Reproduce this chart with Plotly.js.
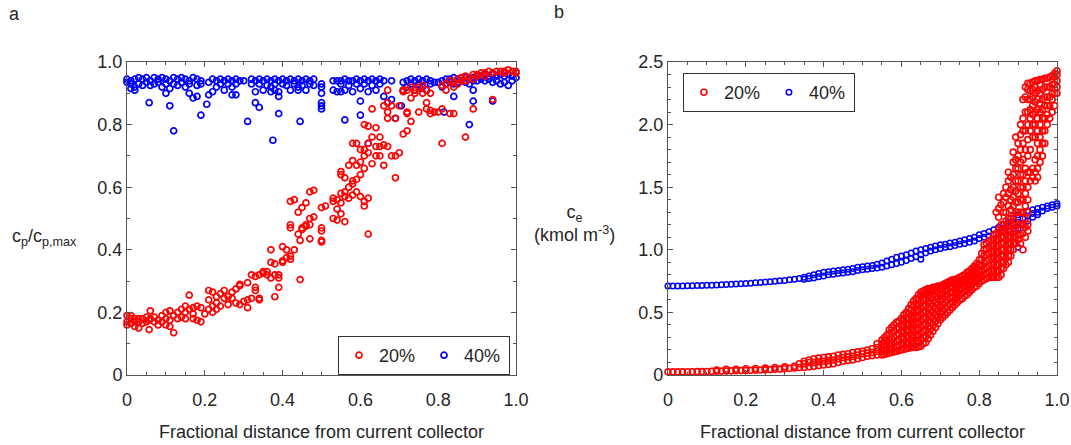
<!DOCTYPE html>
<html>
<head>
<meta charset="utf-8">
<script src="https://cdn.plot.ly/plotly-3.0.1.min.js"></script>
<style>html,body{margin:0;padding:0;background:#fff;}#chart{width:1071px;height:445px;}</style>
</head>
<body>
<div id="chart"></div>
<script>
// ---------- Panel a : c_p / c_p,max ----------
const a20X = [0.00,0.01,0.02,0.03,0.04,0.05,0.057,0.06,0.07,0.08,0.09,0.10,0.11,0.12,0.13,0.14,0.15,0.16,0.17,0.18,0.19,0.20,
  0.21,0.22,0.23,0.24,0.25,0.26,0.27,0.28,0.29,0.30,0.31,0.32,0.33,0.34,0.35,0.36,0.37,0.38,0.39,0.40,0.41,0.42,0.43,0.44,0.445,
  0.45,0.46,0.47,0.48,0.50,0.51,0.53,0.54,0.55,0.56,0.57,0.58,0.59,0.60,0.61,0.62,0.63,0.64,0.65,0.66,0.67,0.68,0.69,0.70,
  0.71,0.72,0.73,0.74,0.75,0.76,0.77,0.78,0.79,0.80,0.81,0.82,0.83,0.84,0.85,0.86,0.87,0.88,0.89,0.90,0.91,0.92,0.93,0.94,
  0.95,0.96,0.97,0.98,0.99,1.00];
const a20Y = [[0.17,0.19,0.16],[0.18,0.165,0.19],[0.17,0.155,0.18],[0.15,0.17,0.18],[0.165,0.18],[0.17,0.185],[0.145,0.175],[0.205,0.18],[0.17,0.185],[0.175,0.16],[0.19,0.17],[0.2,0.16,0.18],[0.155,0.205,0.175],[0.135,0.19],[0.2,0.18],[0.185,0.21],[0.2,0.22,0.18],[0.255,0.21],[0.215,0.195,0.18],[0.22,0.175],[0.215,0.17],[0.195],
  [0.27,0.24,0.21],[0.265,0.22,0.2],[0.23,0.25,0.21],[0.26,0.22],[0.27,0.245],[0.25,0.225],[0.265,0.245],[0.275,0.23],[0.285,0.225,0.29],[0.235],[0.295,0.215,0.24],[0.32,0.245],[0.315,0.28,0.27],[0.32,0.24,0.245],[0.325,0.33],[0.32,0.33],[0.36,0.4,0.31],[0.355,0.25,0.32],[0.31,0.28,0.32],[0.41,0.365,0.36],[0.4,0.375],[0.38,0.37,0.555,0.48,0.47],[0.4,0.56],[0.45,0.52],[0.305,0.43],
  [0.535,0.465,0.47],[0.475,0.48,0.55],[0.5,0.585,0.48,0.435],[0.59,0.505],[0.535,0.47,0.46,0.43,0.425],[0.54],[0.565,0.5,0.555],[0.56,0.53,0.495],[0.58,0.55,0.65,0.515,0.64],[0.585,0.57,0.63,0.49],[0.6,0.67,0.565],[0.62,0.61,0.685,0.575,0.74],[0.585,0.625,0.67,0.74],[0.64,0.68,0.57,0.72],[0.66,0.7,0.54,0.72,0.8,0.555],[0.71,0.45,0.565,0.795,0.74],[0.675,0.76,0.85],[0.79,0.73,0.7],[0.76,0.73,0.7],[0.86,0.67,0.735],[0.87,0.91,0.84,0.82,0.73],[0.86,0.7],[0.63,0.7,0.82],[0.86,0.71],
  [0.905,0.77,0.91],[0.91,0.78,0.84,0.835],[0.885,0.81,0.92],[0.9,0.91],[0.92,0.84],[0.925,0.9],[0.91,0.87,0.85],[0.9,0.835,0.845],[0.84],[0.84],[0.925,0.85,0.74],[0.93,0.91],[0.94,0.835],[0.935,0.92,0.835],[0.945,0.93],[0.95,0.94],[0.955,0.94,0.76],[0.95],[0.96,0.85,0.945],[0.96,0.955],[0.965],[0.965,0.955],[0.97],[0.965,0.88],
  [0.97],[0.97],[0.97,0.965],[0.975],[0.97],[0.97,0.965]];

const a40X = [0.00,0.01,0.02,0.03,0.04,0.05,0.057,0.06,0.07,0.08,0.09,0.10,0.11,0.12,0.13,0.14,0.15,0.16,0.17,0.18,0.19,0.205,
  0.21,0.22,0.23,0.24,0.25,0.26,0.27,0.28,0.29,0.30,0.31,0.32,0.33,0.34,0.35,0.36,0.37,0.375,0.38,0.39,0.40,0.41,0.42,0.43,0.44,0.445,
  0.45,0.46,0.47,0.48,0.50,0.53,0.54,0.55,0.56,0.57,0.58,0.59,0.60,0.61,0.62,0.63,0.64,0.65,0.66,0.67,0.68,0.69,0.705,
  0.71,0.72,0.73,0.74,0.75,0.755,0.76,0.77,0.78,0.79,0.80,0.81,0.815,0.82,0.83,0.84,0.85,0.86,0.87,0.88,0.89,0.90,
  0.91,0.92,0.93,0.94,0.95,0.96,0.97,0.98,0.99,1.00];
const a40Y = [[0.945,0.935],[0.94,0.915,0.93],[0.945,0.92,0.91],[0.95,0.93],[0.945,0.925],[0.95,0.935],[0.87],[0.94,0.925],[0.95,0.93],[0.945,0.935],[0.95,0.92],[0.945,0.93,0.90],[0.94,0.915,0.86],[0.95,0.93,0.78],[0.945,0.925],[0.95,0.935],[0.945,0.92],[0.94,0.93,0.90],[0.95,0.885],[0.945,0.925,0.89],[0.94,0.93,0.83],[0.865],
  [0.935,0.895],[0.945,0.905],[0.94,0.92],[0.945,0.93],[0.94,0.91],[0.945,0.93],[0.94,0.92,0.895],[0.945,0.93,0.895],[0.94],[0.94],[0.81],[0.93,0.945],[0.94,0.905,0.87],[0.945,0.93,0.855],[0.94,0.91],[0.945,0.925],[0.94,0.92,0.905],[0.75],[0.945,0.93,0.91],[0.94,0.905,0.835,0.89],[0.945,0.93],[0.94,0.925],[0.945,0.91],[0.94,0.93],[0.945,0.92,0.91],[0.81],
  [0.94,0.925],[0.945,0.91],[0.94,0.93],[0.945,0.925],[0.93,0.92,0.90,0.87,0.86,0.85],[0.94,0.91],[0.94,0.905],[0.94,0.93,0.905],[0.945,0.91,0.815],[0.94,0.925],[0.94,0.905],[0.945,0.93],[0.94,0.915,0.875,0.83],[0.945,0.93],[0.94,0.905,0.74],[0.945,0.925],[0.94,0.91],[0.945,0.93],[0.94,0.89],[0.87],[0.94,0.88],[0.82],[0.86],
  [0.935,0.91],[0.94,0.92],[0.945,0.93],[0.94,0.91],[0.945,0.93],[0.915],[0.94,0.92],[0.945,0.91],[0.94,0.93],[0.935],[0.935],[0.94,0.92],[0.84],[0.945,0.93],[0.945,0.935],[0.95,0.93,0.89],[0.945,0.935],[0.95,0.94],[0.95,0.935],[0.945,0.93,0.80],[0.95,0.94,0.91,0.875],[0.955,0.94],
  [0.955,0.945],[0.96,0.94],[0.955,0.945],[0.96,0.935,0.875],[0.955,0.94],[0.96,0.93],[0.955,0.935],[0.96,0.925],[0.955,0.94],[0.95]];

// ---------- Panel b : c_e ----------
const b20X = [0,0.0125,0.025,0.0375,0.05,0.0625,0.075,0.0875,0.1,0.1125,0.125,0.1375,0.15,0.1625,0.175,0.1875,0.2,0.2125,0.225,0.2375,0.25,0.2625,0.275,0.2875,0.3,0.3125,0.325,
  0.3375,0.35,0.3625,0.375,0.3875,0.4,0.4125,0.425,0.4375,0.45,0.4625,0.475,0.4875,0.5,0.5125,0.525,0.5375,0.55,0.5625,0.575,0.5875,
  0.6,0.6125,0.625,0.6375,0.65,0.6625,0.675,0.6875,0.7,0.7125,0.725,0.7375,0.75,0.7625,0.775,0.7875,0.8,0.8125,0.825,0.8375,0.85,
  0.8625,0.875,0.8875,0.9,0.9125,0.925,0.9375,0.95,0.9625,0.975,0.9875,1.0];
const b20Y = [[0.025],[0.025],[0.025],[0.025],[0.026],[0.026],[0.027],[0.027],[0.028],[0.029],[0.03,0.04],[0.031],[0.032,0.045],[0.033],[0.034,0.046],[0.035],[0.036,0.05],[0.037],[0.038,0.052],[0.04],[0.041,0.055],[0.043],[0.045,0.06],[0.047],[0.05,0.065],[0.053],[0.056,0.07],
  [0.06,0.09],[0.06,0.09,0.11],[0.065,0.1,0.12],[0.07,0.1,0.13],[0.075,0.105,0.135],[0.08,0.11,0.14],[0.085,0.115,0.145],[0.09,0.12,0.15],[0.1,0.13,0.16],[0.11,0.14,0.165],[0.115,0.145,0.17],[0.12,0.15,0.18],[0.13,0.16,0.185],[0.14,0.17,0.19],[0.15,0.175,0.2],[0.155,0.18,0.21],[0.16,0.19,0.22,0.25],[0.16,0.19,0.22,0.25,0.28],[0.17,0.2,0.24,0.28,0.32],[0.18,0.21,0.25,0.29,0.34,0.38],[0.19,0.23,0.27,0.32,0.37,0.42],
  [0.2,0.25,0.3,0.35,0.4,0.45],[0.21,0.26,0.31,0.36,0.41,0.46,0.5],[0.22,0.27,0.32,0.37,0.42,0.47,0.52,0.56],[0.22,0.27,0.32,0.37,0.42,0.47,0.52,0.57,0.61],[0.23,0.28,0.33,0.38,0.43,0.48,0.53,0.58,0.63,0.66],[0.26,0.31,0.36,0.41,0.46,0.51,0.56,0.61,0.65,0.68],[0.32,0.37,0.42,0.47,0.52,0.57,0.62,0.66,0.69],[0.38,0.43,0.48,0.53,0.58,0.63,0.67,0.7],
  [0.44,0.49,0.54,0.59,0.64,0.68,0.71],[0.48,0.53,0.58,0.63,0.67,0.71,0.73],[0.52,0.57,0.62,0.66,0.7,0.73,0.75],[0.56,0.6,0.64,0.68,0.72,0.75,0.76],[0.6,0.64,0.68,0.72,0.75,0.78],[0.63,0.67,0.71,0.74,0.77,0.8],[0.66,0.7,0.74,0.77,0.8,0.83],[0.7,0.74,0.77,0.8,0.84,0.87],
  [0.73,0.77,0.8,0.84,0.88,0.92],[0.76,0.8,0.85,0.9,0.95,1.0,1.04],[0.78,0.82,0.87,0.92,0.97,1.02,1.07],[0.78,0.83,0.88,0.93,0.98,1.03,1.08,1.12],[0.78,0.83,0.88,0.93,0.98,1.03,1.08,1.13,1.16,1.26,1.33,1.42],
  [0.85,0.9,0.95,1.0,1.05,1.1,1.15,1.2,1.3,1.38,1.45],[0.9,0.95,1.0,1.05,1.1,1.15,1.2,1.25,1.35,1.45,1.55,1.62],[1.0,1.05,1.1,1.15,1.2,1.27,1.35,1.42,1.5,1.6,1.7,1.78],[1.08,1.12,1.2,1.3,1.38,1.45,1.55,1.65,1.75,1.85],
  [1.0,1.13,1.2,1.3,1.4,1.5,1.6,1.72,1.85,1.95,2.05,2.2],[1.15,1.2,1.3,1.4,1.5,1.62,1.75,1.88,2.0,2.1,2.2,2.28,2.33],[1.58,1.65,1.9,2.0,2.08,2.15,2.22,2.28,2.34],[1.58,1.65,1.75,1.85,1.95,2.05,2.12,2.2,2.27,2.35],
  [1.75,1.85,1.95,2.05,2.12,2.2,2.28,2.36],[2.0,2.08,2.15,2.22,2.3,2.37],[2.1,2.2,2.25,2.32,2.39],[2.25,2.3,2.35,2.4,2.43]];
// staggered in-between columns of the dense red band
const b20Xh = [0.55625,0.56875,0.58125,0.59375,0.60625,0.61875,0.63125,0.64375,0.65625,0.66875,0.68125,0.69375,0.70625,0.71875,0.73125,0.74375,0.75625,0.76875,0.78125,0.79375,
  0.80625,0.81875,0.83125,0.84375,0.85625,0.86875,0.88125,0.89375,0.90625,0.91875,0.93125,0.94375,0.95625,0.96875,0.98125,0.99375];
const b20Yh = [[0.165,0.2,0.235,0.27,0.3],[0.175,0.21,0.25,0.29,0.33,0.36],[0.185,0.22,0.26,0.3,0.35,0.4],[0.195,0.235,0.28,0.33,0.38,0.43],[0.205,0.245,0.29,0.34,0.39,0.44,0.48],[0.215,0.25,0.3,0.35,0.4,0.45,0.49,0.53],
  [0.22,0.25,0.3,0.35,0.4,0.45,0.5,0.55,0.59],[0.225,0.26,0.31,0.36,0.41,0.46,0.51,0.56,0.6,0.64],[0.25,0.3,0.35,0.4,0.45,0.5,0.55,0.6,0.64,0.67],[0.29,0.34,0.39,0.44,0.49,0.54,0.59,0.64,0.67,0.69],[0.35,0.4,0.45,0.5,0.55,0.6,0.64,0.68,0.7],[0.41,0.46,0.51,0.56,0.61,0.65,0.69,0.71],
  [0.46,0.51,0.56,0.61,0.65,0.69,0.72],[0.5,0.55,0.6,0.64,0.68,0.72,0.74],[0.54,0.58,0.62,0.66,0.7,0.74,0.76],[0.58,0.62,0.66,0.7,0.73,0.77],[0.61,0.65,0.69,0.73,0.76,0.79],[0.64,0.68,0.72,0.76,0.79,0.82],[0.68,0.72,0.75,0.79,0.82,0.85],[0.71,0.75,0.78,0.82,0.86,0.89],
  [0.75,0.79,0.83,0.87,0.92,0.97],[0.77,0.81,0.86,0.91,0.96,1.01,1.05],[0.78,0.83,0.88,0.93,0.98,1.03,1.08],[0.78,0.83,0.88,0.93,0.98,1.03,1.08,1.13,1.3],[0.8,0.85,0.9,0.95,1.0,1.05,1.1,1.15,1.2,1.36],
  [0.88,0.93,0.98,1.03,1.08,1.13,1.18,1.23,1.3,1.42,1.5],[0.95,1.0,1.05,1.1,1.15,1.2,1.25,1.32,1.4,1.48,1.58],[1.05,1.1,1.15,1.22,1.3,1.38,1.47,1.55,1.65,1.72,1.9],[1.05,1.12,1.2,1.3,1.4,1.5,1.6,1.7,1.8,1.92,2.0],
  [1.1,1.18,1.25,1.35,1.45,1.55,1.65,1.8,1.95,2.1,2.22,2.3],[1.55,1.62,1.8,1.95,2.05,2.12,2.2,2.27,2.33],[1.55,1.62,1.72,1.9,2.0,2.1,2.18,2.25,2.3,2.35],[1.7,1.8,1.9,2.0,2.1,2.17,2.25,2.32,2.36],[1.85,1.95,2.05,2.15,2.22,2.3,2.37],[2.05,2.15,2.22,2.3,2.38],[2.15,2.25,2.32,2.38,2.41]];

const b40X = [0,0.0125,0.025,0.0375,0.05,0.0625,0.075,0.0875,0.1,0.1125,0.125,0.1375,0.15,0.1625,0.175,0.1875,0.2,0.2125,0.225,0.2375,0.25,0.2625,0.275,0.2875,0.3,0.3125,0.325,
  0.3375,0.35,0.3625,0.375,0.3875,0.4,0.4125,0.425,0.4375,0.45,0.4625,0.475,0.4875,0.5,0.5125,0.525,0.5375,0.55,0.5625,0.575,0.5875,
  0.6,0.6125,0.625,0.6375,0.65,0.6625,0.675,0.6875,0.7,0.7125,0.725,0.7375,0.75,0.7625,0.775,0.7875,0.8,0.8125,0.825,0.8375,0.85,
  0.8625,0.875,0.8875,0.9,0.9125,0.925,0.9375,0.95,0.9625,0.975,0.9875,1.0];
const b40Y = [[0.71],[0.71],[0.71],[0.71],[0.712],[0.713],[0.714],[0.715],[0.716],[0.717],[0.719],[0.72],[0.722],[0.724],[0.726],[0.728],[0.73],[0.733],[0.736],[0.739],[0.742],[0.745],[0.748],[0.752],[0.755],[0.76],[0.765],
  [0.77],[0.78,0.765],[0.79,0.77],[0.8,0.775],[0.81,0.785],[0.82,0.79],[0.825,0.8],[0.83,0.805],[0.835,0.81],[0.84,0.815],[0.845,0.82],[0.85,0.825],[0.86,0.835],[0.865,0.84],[0.87,0.845],[0.875,0.85],[0.885,0.855],[0.895,0.86],[0.91,0.87],[0.925,0.88],[0.94,0.89],
  [0.95,0.9],[0.96,0.915],[0.975,0.93],[0.99,0.945],[1.0,0.96,0.925],[1.01,0.975],[1.02,0.99],[1.03,1.0],[1.04,1.01],[1.045,1.02],[1.055,1.025],[1.06,1.035],[1.07,1.045],[1.08,1.05],[1.09,1.06],[1.1,1.07],[1.12,1.09],[1.13,1.1],[1.145,1.11],[1.16,1.12],[1.18,1.13],
  [1.2,1.15,1.175],[1.22,1.16,1.19],[1.25,1.17,1.21],[1.28,1.22,1.17,1.02],[1.3,1.25,1.2],[1.31,1.27,1.23],[1.32,1.29,1.26],[1.33,1.3,1.28],[1.34,1.31],[1.35,1.33],[1.36,1.34],[1.37,1.35]];

// tick labels
const xTickVals = [0,0.2,0.4,0.6,0.8,1.0];
const xTickText = ['0','0.2','0.4','0.6','0.8','1.0'];
const yaTickVals = [0,0.2,0.4,0.6,0.8,1.0];
const yaTickText = ['0','0.2','0.4','0.6','0.8','1.0'];
const ybTickVals = [0,0.5,1.0,1.5,2.0,2.5];
const ybTickText = ['0','0.5','1.0','1.5','2.0','2.5'];
const seriesNames = ['20%','40%'];

function flat(xs, ys, xs2, ys2){
  const X=[],Y=[];
  xs.forEach((x,i)=>ys[i].forEach(v=>{X.push(x);Y.push(v);}));
  if(xs2) xs2.forEach((x,i)=>ys2[i].forEach(v=>{X.push(x);Y.push(v);}));
  return {x:X,y:Y};
}
const RED='rgb(255,0,0)', BLUE='rgb(0,0,255)';
function mk(d,color,name,xa,ya,leg,sz,lw){
  return {type:'scatter',mode:'markers',x:d.x,y:d.y,name:name,xaxis:xa,yaxis:ya,legend:leg,cliponaxis:false,
    marker:{symbol:'circle-open',size:sz,color:color,line:{width:lw,color:color}}};
}
const A20=flat(a20X,a20Y), A40=flat(a40X,a40Y), B20=flat(b20X,b20Y,b20Xh,b20Yh), B40=flat(b40X,b40Y);
const traces=[
  mk(A40,BLUE,seriesNames[1],'x','y','legend',6,1.7),
  mk(A20,RED,seriesNames[0],'x','y','legend',6,1.7),
  mk(B40,BLUE,seriesNames[1],'x2','y2','legend2',5.5,1.5),
  mk(B20,RED,seriesNames[0],'x2','y2','legend2',6,1.6)
];
traces[0].legendrank=2; traces[1].legendrank=1; traces[2].legendrank=2; traces[3].legendrank=1;

const FONT='"Liberation Sans", Arial, sans-serif';
const TXT='#262626', AX='#555555';
function axisBase(extra){
  return Object.assign({
    showgrid:false, zeroline:false, showline:true, linecolor:AX, linewidth:1, mirror:'ticks',
    ticks:'inside', ticklen:5, tickcolor:AX, tickwidth:1,
    tickfont:{family:FONT,size:18,color:TXT}, tickmode:'array'
  }, extra);
}
const layout={
  width:1071,height:445,
  margin:{l:127,r:14,t:62,b:70,pad:0},
  paper_bgcolor:'#fff',plot_bgcolor:'#fff',
  font:{family:FONT,color:TXT},
  showlegend:true,
  xaxis:axisBase({domain:[0,0.4183],range:[0,1],tickvals:xTickVals,ticktext:xTickText,anchor:'y',ticklabelstandoff:8,
    minor:{dtick:0.05,ticklen:3,tickcolor:AX,ticks:'inside'},
    title:{text:'Fractional distance from current collector',font:{family:FONT,size:18,color:TXT},standoff:16}}),
  yaxis:axisBase({domain:[0,1],range:[0,1],tickvals:yaTickVals,ticktext:yaTickText,anchor:'x',
    minor:{dtick:0.1,ticklen:3,tickcolor:AX,ticks:'inside'}}),
  xaxis2:axisBase({domain:[0.5817,1],range:[0,1],tickvals:xTickVals,ticktext:xTickText,anchor:'y2',ticklabelstandoff:8,
    minor:{dtick:0.05,ticklen:3,tickcolor:AX,ticks:'inside'},
    title:{text:'Fractional distance from current collector',font:{family:FONT,size:18,color:TXT},standoff:16}}),
  yaxis2:axisBase({domain:[0,1],range:[0,2.5],tickvals:ybTickVals,ticktext:ybTickText,anchor:'x2',
    minor:{dtick:0.1,ticklen:3,tickcolor:AX,ticks:'inside'}}),
  legend:{orientation:'h',x:0.2269,y:0.1246,xanchor:'left',yanchor:'top',bgcolor:'#fff',bordercolor:'#333',borderwidth:1,
    font:{family:FONT,size:18,color:TXT},entrywidth:40,entrywidthmode:'pixels',itemclick:false,traceorder:'normal'},
  legend2:{orientation:'h',x:0.5978,y:0.9649,xanchor:'left',yanchor:'top',bgcolor:'#fff',bordercolor:'#333',borderwidth:1,
    font:{family:FONT,size:18,color:TXT},entrywidth:40,entrywidthmode:'pixels',itemclick:false,traceorder:'normal'},
  annotations:[
    {xref:'paper',yref:'paper',x:-0.1215,y:1.153,text:'a',showarrow:false,font:{family:FONT,size:18,color:TXT},xanchor:'center',yanchor:'middle'},
    {xref:'paper',yref:'paper',x:0.4645,y:1.16,text:'b',showarrow:false,font:{family:FONT,size:18,color:TXT},xanchor:'center',yanchor:'middle'},
    {xref:'paper',yref:'paper',x:-0.0892,y:0.4377,text:'c<sub>p</sub>/c<sub>p,max</sub>',showarrow:false,font:{family:FONT,size:18,color:TXT},xanchor:'center',yanchor:'middle'},
    {xref:'paper',yref:'paper',x:0.4817,y:0.4856,text:'c<sub>e</sub><br>(kmol m<sup>-3</sup>)',showarrow:false,align:'center',font:{family:FONT,size:18,color:TXT},xanchor:'center',yanchor:'middle'}
  ]
};
Plotly.newPlot('chart',traces,layout,{displayModeBar:false,staticPlot:true});
</script>
</body>
</html>
